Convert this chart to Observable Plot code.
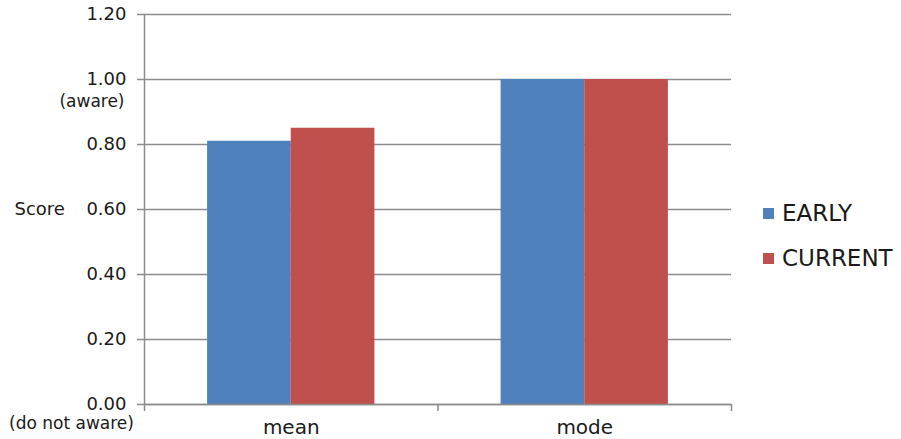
<!DOCTYPE html>
<html>
<head>
<meta charset="utf-8">
<script src="https://cdn.jsdelivr.net/npm/d3@7"></script>
<script src="https://cdn.jsdelivr.net/npm/@observablehq/plot@0.6"></script>
<style>
  html, body { margin: 0; padding: 0; background: #fff; }
  #wrap { position: relative; width: 901px; height: 439px; font-family: "DejaVu Sans", sans-serif; }
  #legend { position: absolute; left: 763px; top: 199px; color: #1a1a1a; font-size: 23px; }
  #legend .item { display: flex; align-items: center; height: 28px; margin-bottom: 17px; }
  #legend .sw { width: 11px; height: 11px; margin-right: 8px; }
</style>
</head>
<body>
<div id="wrap"><div id="legend"></div></div>
<script>
// Categories, series and their scores
const categories = ["mean", "mode"];
const series = ["EARLY", "CURRENT"];
const colors = ["#4f81bd", "#c0504d"];
const early = [0.81, 1.00];
const current = [0.85, 1.00];
const yTicks = [0, 0.2, 0.4, 0.6, 0.8, 1.0, 1.2];

// Grouped bars: each category spans one unit on x; the pair of bars sits in its middle
const groupWidth = 0.57;
const barWidth = groupWidth / series.length;
const values = [early, current];
const bars = [];
categories.forEach((c, i) => {
  series.forEach((s, j) => {
    const x1 = i + (1 - groupWidth) / 2 + j * barWidth;
    bars.push({category: c, series: s, value: values[j][i], x1, x2: x1 + barWidth});
  });
});

const gray = "#8c8c8c";
const ink = "#1a1a1a";

const chart = Plot.plot({
  width: 901,
  height: 439,
  marginLeft: 144,
  marginRight: 170,
  marginTop: 14,
  marginBottom: 35,
  style: {fontFamily: "DejaVu Sans, sans-serif", fontSize: "18px", color: ink, background: "#fff"},
  x: {
    domain: [0, categories.length],
    ticks: d3.range(categories.length + 1),
    tickFormat: () => "",
    tickSize: 7,
    label: null
  },
  y: {
    domain: [0, 1.2],
    ticks: yTicks,
    tickFormat: d3.format(".2f"),
    tickSize: 7,
    tickPadding: 11,
    label: null
  },
  color: {domain: series, range: colors},
  marks: [
    Plot.ruleY(yTicks, {stroke: gray, strokeWidth: 1.5}),
    Plot.rectY(bars, {x1: "x1", x2: "x2", y: "value", fill: "series"}),
    Plot.ruleX([0], {stroke: gray, strokeWidth: 1.5}),
    Plot.ruleY([0], {stroke: gray, strokeWidth: 1.5}),
    Plot.text(categories, {
      x: (d, i) => i + 0.5,
      y: () => 0,
      text: d => d,
      dy: 23,
      fontSize: 20,
      fill: ink
    }),
    Plot.text(["(aware)"], {
      y: () => 1.0, frameAnchor: "left", dx: -20, dy: 22,
      textAnchor: "end", fontSize: 17, fill: ink
    }),
    Plot.text(["(do not aware)"], {
      y: () => 0, frameAnchor: "left", dx: -73, dy: 19,
      textAnchor: "middle", fontSize: 17, fill: ink
    }),
    Plot.text(["Score"], {
      y: () => 0.6, frameAnchor: "left", dx: -130,
      textAnchor: "start", fontSize: 18, fill: ink
    })
  ]
});

// Axis ticks and lines in the same gray as the grid
chart.querySelectorAll("[aria-label='x-axis tick'] path, [aria-label='y-axis tick'] path, g[aria-label$='axis'] path")
  .forEach(p => { p.setAttribute("stroke", gray); p.setAttribute("stroke-width", 1.5); });

const wrap = document.getElementById("wrap");
wrap.insertBefore(chart, wrap.firstChild);

// Legend
const legend = document.getElementById("legend");
series.forEach((s, j) => {
  const item = document.createElement("div");
  item.className = "item";
  const sw = document.createElement("span");
  sw.className = "sw";
  sw.style.background = colors[j];
  const label = document.createElement("span");
  label.textContent = s;
  item.appendChild(sw);
  item.appendChild(label);
  legend.appendChild(item);
});
</script>
</body>
</html>
